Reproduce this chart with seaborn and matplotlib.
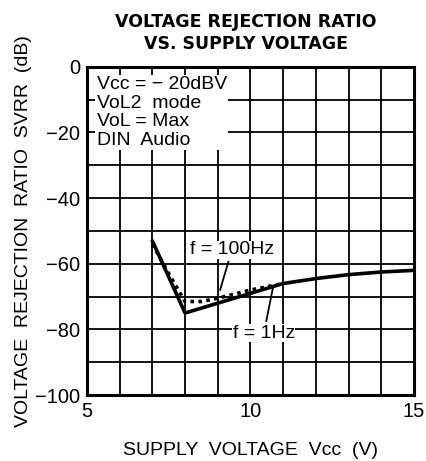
import matplotlib
matplotlib.use("Agg")
import matplotlib.pyplot as plt
import seaborn as sns
import pandas as pd

# Data
vcc_1hz = [7, 8, 9, 10, 11, 12, 13, 14, 15]
svrr_1hz = [-53, -75, -72, -69, -66, -64.5, -63.3, -62.5, -62]
vcc_100hz = [7, 7.5, 8, 8.5, 9, 10, 11]
svrr_100hz = [-54, -63, -71.5, -71.5, -70.5, -68, -66]

x_ticks = [5, 10, 15]
y_ticks = [0, -20, -40, -60, -80, -100]
conditions = ["Vcc = \u2212 20dBV", "VoL2  mode", "VoL = Max", "DIN  Audio"]

sns.set_theme(style="white")
plt.rcParams['font.family'] = ['Liberation Sans', 'DejaVu Sans']
plt.rcParams['text.color'] = 'black'

df1 = pd.DataFrame({"v": vcc_1hz, "s": svrr_1hz})
df2 = pd.DataFrame({"v": vcc_100hz, "s": svrr_100hz})

fig = plt.figure(figsize=(4.26, 4.61), dpi=100)
ax = fig.add_axes([0.204, 0.143, 0.768, 0.712])

sns.lineplot(data=df1, x="v", y="s", ax=ax, color="black", linewidth=2.6, zorder=5)
sns.lineplot(data=df2, x="v", y="s", ax=ax, color="black", linewidth=2.6,
             linestyle=(0, (1, 1.2)), zorder=5)

ax.set_xlim(5, 15)
ax.set_ylim(-100, 0)
ax.set_xticks(range(5, 16))
ax.set_yticks(range(-100, 1, 10))
ax.grid(True, color="black", linewidth=1.3)
ax.set_xticklabels([str(t) if t in x_ticks else "" for t in range(5, 16)])
ax.set_yticklabels([("\u2212" + str(-t) if t < 0 else str(t)) if t in y_ticks else ""
                    for t in range(-100, 1, 10)])
ax.tick_params(axis="both", length=0, labelsize=14.5, colors="black", pad=5)
for sp in ax.spines.values():
    sp.set_linewidth(2.2)
    sp.set_color("black")

ax.set_xlabel("SUPPLY  VOLTAGE  Vcc  (V)", fontsize=14, labelpad=15, color="black")
ax.set_ylabel("VOLTAGE  REJECTION  RATIO  SVRR  (dB)", fontsize=14, labelpad=2, color="black")

fig.text(0.578, 0.952, "VOLTAGE REJECTION RATIO", ha="center", va="center",
         fontsize=12.5, fontweight="bold", family="DejaVu Sans", color="black")
fig.text(0.578, 0.905, "VS. SUPPLY VOLTAGE", ha="center", va="center",
         fontsize=12.5, fontweight="bold", family="DejaVu Sans", color="black")

ax.text(5.3, -2.8, "\n".join(conditions), ha="left", va="top", fontsize=14,
        linespacing=1.12, zorder=6,
        bbox=dict(facecolor="white", edgecolor="none", pad=1.0))

ax.annotate("f = 100Hz", xy=(9.07, -68.0), xytext=(9.43, -55.8), ha="center", va="center",
            fontsize=14, zorder=7,
            bbox=dict(facecolor="white", edgecolor="none", pad=0.3),
            arrowprops=dict(arrowstyle="-", color="black", lw=1.3, shrinkA=2, shrinkB=0))
ax.annotate("f = 1Hz", xy=(10.69, -67.1), xytext=(10.41, -81.1), ha="center", va="center",
            fontsize=14, zorder=7,
            bbox=dict(facecolor="white", edgecolor="none", pad=0.3),
            arrowprops=dict(arrowstyle="-", color="black", lw=1.3, shrinkA=2, shrinkB=0))

fig.savefig("out.png", dpi=100)
